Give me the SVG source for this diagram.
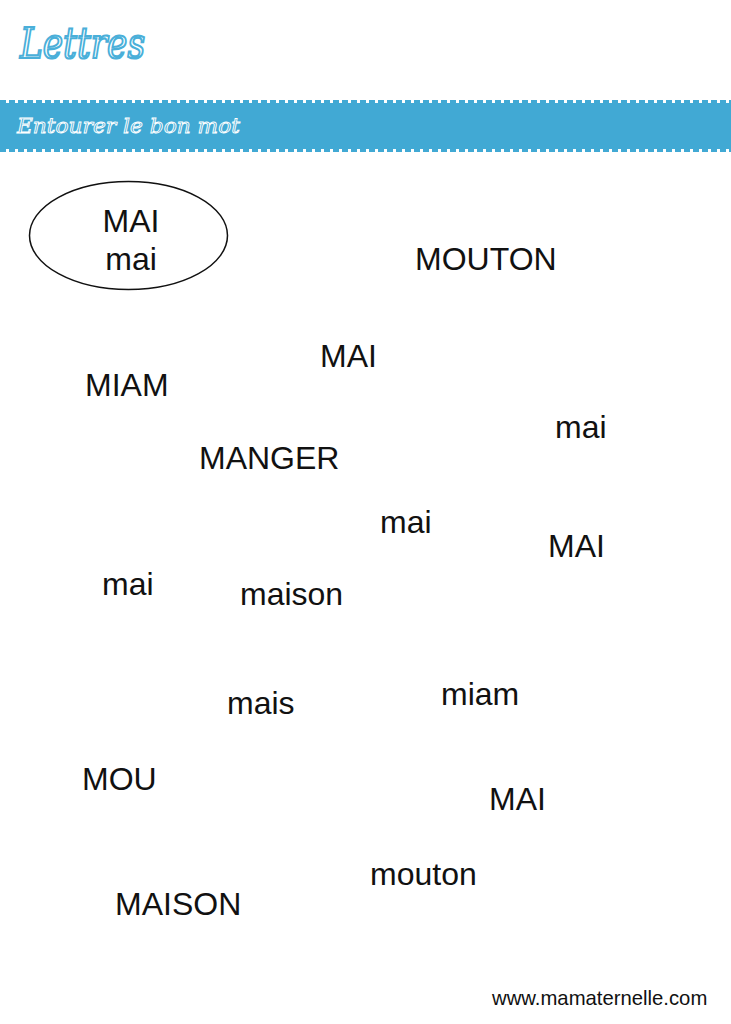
<svg xmlns="http://www.w3.org/2000/svg" width="731" height="1024" viewBox="0 0 731 1024">
  <style>
    .w { font-family: "Liberation Sans", Arial, sans-serif; font-size: 32px; fill: #111; }
    .title { font-family: "DejaVu Serif", "Liberation Serif", serif; font-style: italic; font-size: 42px; fill: none; stroke: #4aafd9; stroke-width: 2.2px; }
    .band { font-family: "DejaVu Serif", "Liberation Serif", serif; font-style: italic; font-size: 21px; fill: none; stroke: #ffffff; stroke-width: 0.9px; }
    .foot { font-family: "Liberation Sans", Arial, sans-serif; font-size: 20.3px; fill: #111; }
  </style>
  <rect width="731" height="1024" fill="#ffffff"/>
  <g id="header">
    <text class="title" x="20" y="58" textLength="125" lengthAdjust="spacingAndGlyphs">Lettres</text>
    <rect x="0" y="103" width="731" height="46" fill="#41a9d4"/>
    <line x1="0" y1="101.5" x2="731" y2="101.5" stroke="#41a9d4" stroke-width="3" stroke-dasharray="6 3"/>
    <line x1="0" y1="150.5" x2="731" y2="150.5" stroke="#41a9d4" stroke-width="3" stroke-dasharray="6 3"/>
    <text class="band" x="17" y="133" textLength="223" lengthAdjust="spacingAndGlyphs">Entourer le bon mot</text>
  </g>
  <g id="example">
    <ellipse cx="128.5" cy="235.5" rx="99" ry="54" fill="none" stroke="#111" stroke-width="1.5"/>
    <text class="w" x="131" y="232" text-anchor="middle">MAI</text>
    <text class="w" x="131" y="270" text-anchor="middle">mai</text>
  </g>
  <g id="words">
    <text id="w1" class="w" x="415" y="270">MOUTON</text>
    <text id="w2" class="w" x="320" y="367">MAI</text>
    <text id="w3" class="w" x="85" y="396">MIAM</text>
    <text id="w4" class="w" x="555" y="438">mai</text>
    <text id="w5" class="w" x="199" y="469">MANGER</text>
    <text id="w6" class="w" x="380" y="533">mai</text>
    <text id="w7" class="w" x="548" y="557">MAI</text>
    <text id="w8" class="w" x="102" y="595">mai</text>
    <text id="w9" class="w" x="240" y="605">maison</text>
    <text id="w10" class="w" x="227" y="714">mais</text>
    <text id="w11" class="w" x="441" y="705">miam</text>
    <text id="w12" class="w" x="82" y="790">MOU</text>
    <text id="w13" class="w" x="489" y="810">MAI</text>
    <text id="w14" class="w" x="370" y="885">mouton</text>
    <text id="w15" class="w" x="115" y="915">MAISON</text>
  </g>
  <g id="footer">
    <text class="foot" x="492" y="1005">www.mamaternelle.com</text>
  </g>
</svg>
